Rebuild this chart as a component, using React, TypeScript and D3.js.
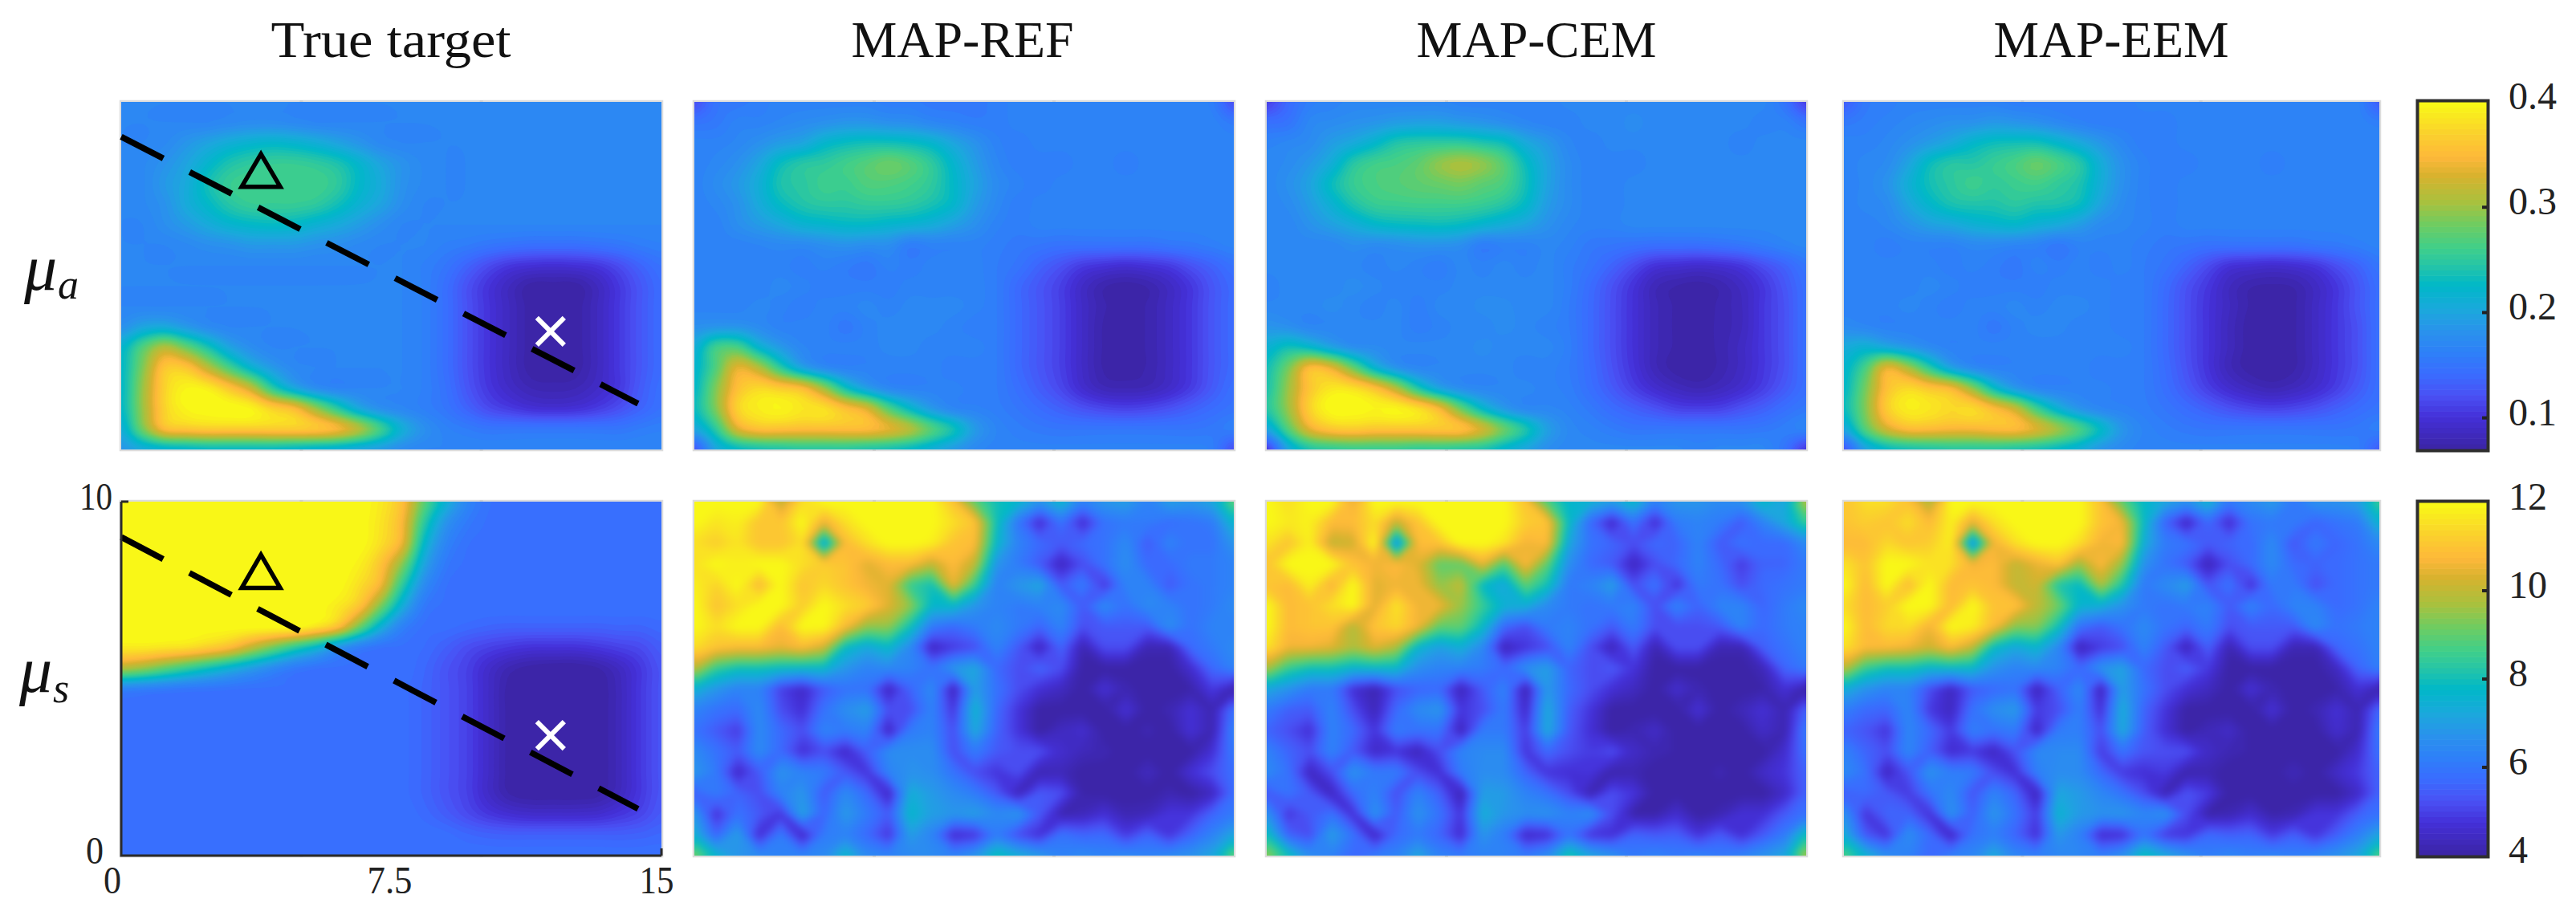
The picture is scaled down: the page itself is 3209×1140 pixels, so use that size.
import React, { useMemo } from "react";
import * as d3 from "d3";

// ---------- data (26 columns x 18 rows, top row first) ----------
const titles = ["True target", "MAP-REF", "MAP-CEM", "MAP-EEM"];
const aTicks = [0.1, 0.2, 0.3, 0.4];
const sTicks = [4, 6, 8, 10, 12];
const aRange = [0.07, 0.4];
const sRange = [4, 12];
const xTicks = [0, 7.5, 15];
const yTicks = [0, 10];
const lineX = [0, 14.35];
const lineY = [9, 1.32];
const triangleAt = [3.88, 8];
const crossAt = [11.92, 3.4];

const trueMuA = [
[.168,.168,.168,.168,.168,.168,.168,.168,.168,.168,.168,.168,.168,.168,.168,.168,.168,.168,.168,.168,.168,.168,.168,.168,.168,.168],
[.168,.168,.168,.168,.168,.172,.175,.175,.172,.168,.168,.168,.168,.168,.168,.168,.168,.168,.168,.168,.168,.168,.168,.168,.168,.168],
[.168,.168,.172,.185,.198,.21,.218,.222,.218,.21,.198,.185,.172,.168,.168,.168,.168,.168,.168,.168,.168,.168,.168,.168,.168,.168],
[.168,.172,.182,.198,.22,.24,.25,.255,.255,.25,.24,.22,.198,.182,.172,.168,.168,.168,.168,.168,.168,.168,.168,.168,.168,.168],
[.168,.172,.188,.205,.235,.255,.26,.26,.26,.26,.25,.225,.205,.182,.172,.168,.168,.168,.168,.168,.168,.168,.168,.168,.168,.168],
[.168,.172,.182,.205,.225,.245,.255,.255,.255,.25,.235,.215,.198,.178,.168,.168,.168,.168,.168,.168,.168,.168,.168,.168,.168,.168],
[.168,.168,.178,.19,.205,.218,.225,.228,.225,.215,.205,.192,.178,.168,.168,.168,.168,.168,.168,.168,.168,.168,.168,.168,.168,.168],
[.168,.168,.168,.172,.178,.182,.188,.188,.188,.182,.178,.172,.168,.168,.168,.162,.158,.152,.148,.145,.145,.145,.148,.152,.158,.162],
[.168,.168,.168,.168,.168,.168,.168,.168,.168,.168,.168,.168,.168,.168,.162,.152,.135,.118,.105,.1,.098,.1,.105,.118,.135,.148],
[.168,.168,.168,.168,.168,.168,.168,.168,.168,.168,.168,.168,.168,.168,.162,.145,.122,.102,.085,.072,.072,.072,.085,.105,.125,.142],
[.168,.168,.168,.168,.168,.168,.168,.168,.168,.168,.168,.168,.168,.168,.162,.145,.122,.102,.085,.072,.072,.072,.085,.105,.125,.142],
[.18,.2,.205,.19,.175,.168,.168,.168,.168,.168,.168,.168,.168,.168,.162,.145,.122,.102,.085,.072,.072,.072,.085,.105,.125,.142],
[.22,.27,.31,.28,.24,.2,.178,.168,.168,.168,.168,.168,.168,.168,.162,.145,.122,.102,.085,.072,.072,.072,.085,.105,.125,.142],
[.225,.29,.36,.36,.315,.265,.22,.19,.172,.168,.168,.168,.168,.168,.162,.145,.122,.102,.085,.072,.072,.072,.085,.105,.125,.142],
[.225,.3,.37,.395,.39,.36,.32,.25,.205,.178,.168,.168,.168,.168,.162,.148,.125,.105,.09,.08,.078,.08,.09,.105,.128,.145],
[.225,.3,.37,.395,.4,.4,.395,.37,.35,.3,.25,.205,.18,.17,.162,.152,.135,.118,.108,.1,.098,.1,.108,.12,.135,.148],
[.21,.285,.35,.36,.365,.365,.365,.365,.365,.36,.345,.31,.26,.21,.18,.165,.158,.152,.152,.152,.152,.152,.152,.152,.158,.162],
[.185,.205,.215,.22,.225,.225,.225,.225,.22,.215,.21,.2,.19,.175,.168,.168,.168,.168,.168,.168,.168,.168,.168,.168,.168,.168],
];

const refMuA = [
[.12,.15,.155,.16,.165,.165,.165,.165,.165,.16,.16,.155,.155,.155,.16,.165,.165,.165,.165,.165,.165,.165,.165,.165,.16,.12],
[.15,.155,.165,.165,.17,.175,.18,.185,.185,.18,.178,.17,.165,.16,.16,.165,.165,.165,.165,.165,.165,.165,.165,.165,.165,.155],
[.165,.165,.17,.18,.192,.2,.22,.23,.235,.235,.23,.22,.2,.182,.165,.16,.165,.165,.165,.165,.165,.165,.165,.165,.165,.165],
[.165,.17,.18,.2,.23,.245,.25,.26,.27,.28,.27,.25,.22,.192,.17,.16,.16,.16,.165,.165,.16,.165,.165,.165,.165,.165],
[.165,.175,.188,.21,.24,.248,.258,.258,.268,.268,.262,.25,.225,.198,.175,.165,.16,.165,.165,.165,.165,.165,.165,.165,.165,.165],
[.165,.17,.182,.205,.228,.242,.248,.248,.252,.252,.248,.238,.222,.192,.172,.16,.165,.165,.165,.165,.165,.165,.165,.165,.165,.165],
[.165,.165,.178,.19,.202,.215,.22,.225,.225,.22,.215,.208,.195,.18,.165,.16,.165,.165,.165,.165,.165,.165,.165,.165,.165,.165],
[.165,.165,.165,.168,.172,.172,.178,.182,.178,.178,.16,.165,.165,.165,.16,.155,.152,.148,.148,.148,.148,.148,.152,.155,.16,.165],
[.165,.165,.165,.165,.165,.16,.165,.16,.155,.165,.16,.165,.165,.165,.158,.15,.135,.122,.108,.102,.098,.102,.108,.122,.135,.148],
[.165,.165,.165,.165,.17,.165,.16,.16,.16,.16,.165,.165,.165,.165,.158,.14,.125,.11,.09,.076,.072,.076,.088,.105,.125,.14],
[.165,.165,.165,.17,.165,.16,.165,.165,.17,.165,.17,.17,.17,.165,.158,.14,.125,.11,.09,.076,.072,.076,.088,.105,.125,.14],
[.18,.185,.185,.175,.165,.165,.165,.155,.165,.17,.17,.17,.165,.16,.158,.14,.125,.11,.09,.074,.072,.076,.088,.105,.125,.14],
[.21,.26,.265,.22,.19,.17,.165,.165,.165,.17,.17,.165,.165,.165,.158,.14,.125,.11,.09,.074,.072,.076,.088,.105,.125,.14],
[.22,.27,.335,.31,.25,.2,.175,.165,.165,.165,.165,.165,.16,.16,.158,.14,.125,.11,.09,.074,.072,.076,.088,.105,.125,.14],
[.225,.29,.355,.375,.365,.35,.3,.235,.195,.172,.165,.165,.165,.16,.158,.145,.13,.115,.095,.082,.08,.082,.092,.108,.128,.145],
[.23,.29,.37,.39,.395,.385,.38,.355,.33,.27,.225,.19,.17,.165,.16,.152,.142,.132,.122,.115,.112,.115,.122,.132,.142,.15],
[.2,.25,.33,.355,.355,.352,.352,.352,.35,.335,.31,.27,.235,.19,.168,.16,.155,.152,.152,.152,.152,.152,.152,.152,.155,.16],
[.125,.2,.225,.235,.24,.245,.245,.245,.24,.235,.225,.21,.19,.172,.165,.165,.165,.165,.165,.165,.165,.165,.165,.165,.16,.12],
];

const cemMuA = [
[.11,.14,.16,.165,.17,.17,.17,.17,.17,.165,.165,.165,.165,.165,.17,.17,.17,.17,.17,.17,.17,.17,.17,.17,.15,.11],
[.145,.15,.17,.175,.18,.185,.192,.195,.195,.19,.185,.178,.17,.165,.165,.17,.17,.175,.17,.17,.17,.17,.17,.165,.165,.15],
[.165,.17,.175,.192,.205,.222,.242,.248,.25,.25,.242,.232,.205,.188,.17,.165,.17,.17,.17,.17,.17,.17,.165,.17,.17,.17],
[.17,.175,.188,.21,.245,.26,.265,.275,.295,.305,.295,.27,.23,.198,.175,.165,.165,.165,.17,.17,.17,.17,.17,.17,.17,.17],
[.17,.18,.198,.23,.255,.265,.27,.275,.28,.285,.275,.265,.235,.198,.175,.165,.165,.17,.17,.17,.17,.17,.17,.17,.17,.17],
[.17,.175,.192,.215,.24,.255,.258,.26,.26,.26,.255,.245,.225,.192,.175,.165,.165,.17,.17,.17,.17,.17,.17,.17,.17,.17],
[.17,.17,.182,.195,.208,.222,.228,.23,.232,.228,.218,.208,.198,.182,.17,.165,.165,.17,.17,.17,.17,.17,.17,.17,.17,.17],
[.17,.17,.17,.17,.178,.175,.178,.182,.182,.178,.16,.165,.165,.17,.165,.155,.152,.148,.145,.145,.145,.148,.152,.158,.165,.17],
[.17,.17,.17,.17,.17,.165,.17,.165,.16,.17,.165,.17,.165,.17,.16,.15,.135,.118,.102,.098,.095,.098,.105,.12,.135,.152],
[.165,.17,.17,.17,.175,.17,.165,.165,.165,.17,.17,.17,.17,.17,.16,.142,.122,.102,.082,.075,.072,.077,.088,.105,.125,.145],
[.17,.17,.17,.175,.17,.165,.17,.16,.17,.17,.175,.175,.17,.17,.158,.14,.12,.1,.082,.074,.07,.077,.085,.105,.122,.145],
[.185,.18,.17,.17,.17,.17,.17,.16,.165,.17,.17,.175,.17,.165,.158,.14,.12,.1,.082,.074,.072,.077,.085,.105,.122,.145],
[.215,.235,.225,.2,.18,.175,.17,.17,.17,.17,.175,.17,.17,.17,.16,.14,.12,.1,.082,.074,.072,.077,.088,.105,.122,.145],
[.235,.285,.35,.335,.28,.22,.185,.17,.17,.17,.17,.17,.165,.165,.158,.142,.122,.102,.082,.072,.07,.077,.088,.105,.122,.145],
[.24,.3,.36,.385,.38,.355,.31,.245,.2,.178,.17,.17,.17,.165,.16,.145,.128,.11,.095,.085,.08,.085,.095,.11,.128,.145],
[.245,.3,.37,.4,.4,.395,.395,.38,.345,.28,.225,.19,.172,.17,.165,.155,.142,.132,.122,.112,.11,.112,.122,.132,.145,.155],
[.2,.27,.335,.36,.365,.36,.36,.36,.36,.355,.325,.28,.24,.195,.172,.165,.158,.152,.152,.152,.152,.152,.152,.155,.16,.165],
[.105,.2,.24,.25,.255,.255,.255,.25,.25,.245,.24,.22,.2,.178,.17,.17,.17,.17,.17,.17,.165,.17,.17,.17,.15,.105],
];

const eemMuA = [
[.13,.155,.16,.165,.165,.165,.165,.165,.16,.16,.16,.16,.16,.16,.165,.165,.165,.165,.165,.165,.165,.165,.165,.165,.165,.13],
[.155,.16,.165,.17,.175,.18,.182,.188,.185,.18,.172,.165,.16,.16,.16,.16,.165,.165,.165,.165,.165,.165,.165,.165,.165,.16],
[.165,.165,.17,.18,.192,.205,.222,.232,.235,.235,.222,.205,.187,.17,.16,.16,.165,.165,.165,.165,.165,.165,.165,.165,.165,.165],
[.165,.17,.175,.198,.23,.245,.245,.255,.265,.278,.265,.245,.208,.18,.165,.16,.16,.165,.165,.165,.16,.165,.165,.165,.165,.165],
[.165,.17,.182,.21,.235,.248,.258,.252,.258,.262,.252,.24,.208,.18,.165,.16,.165,.165,.165,.165,.165,.165,.165,.165,.165,.165],
[.165,.17,.175,.2,.222,.238,.242,.242,.248,.242,.24,.23,.198,.175,.165,.16,.165,.165,.165,.165,.165,.165,.165,.165,.165,.165],
[.165,.165,.17,.182,.195,.202,.212,.218,.222,.212,.205,.192,.175,.17,.165,.16,.165,.165,.165,.165,.165,.165,.165,.165,.165,.165],
[.165,.165,.16,.165,.165,.165,.172,.172,.168,.165,.155,.165,.165,.165,.16,.155,.152,.148,.148,.148,.148,.148,.152,.155,.16,.165],
[.165,.165,.165,.165,.165,.16,.165,.16,.155,.165,.16,.165,.16,.165,.158,.15,.135,.118,.102,.098,.095,.098,.105,.12,.135,.152],
[.165,.165,.165,.165,.17,.165,.16,.16,.16,.16,.165,.165,.165,.16,.158,.142,.122,.105,.086,.076,.074,.076,.088,.105,.125,.145],
[.165,.165,.165,.17,.165,.16,.165,.165,.17,.165,.17,.17,.165,.16,.158,.14,.12,.102,.086,.074,.072,.074,.088,.105,.125,.145],
[.175,.17,.165,.165,.165,.165,.165,.155,.165,.17,.17,.165,.165,.16,.158,.14,.12,.102,.084,.072,.072,.074,.088,.105,.122,.145],
[.205,.215,.205,.19,.175,.165,.165,.165,.165,.165,.165,.165,.165,.165,.158,.14,.12,.102,.084,.072,.072,.074,.088,.105,.122,.145],
[.22,.265,.335,.305,.25,.2,.175,.165,.165,.165,.165,.165,.16,.16,.158,.142,.122,.102,.082,.072,.07,.074,.088,.105,.122,.145],
[.225,.285,.355,.375,.36,.345,.295,.23,.19,.17,.165,.165,.165,.16,.158,.145,.128,.11,.095,.085,.08,.085,.095,.11,.128,.145],
[.23,.29,.365,.39,.385,.375,.375,.35,.32,.26,.215,.185,.17,.165,.16,.152,.142,.132,.122,.115,.112,.115,.122,.132,.142,.15],
[.2,.27,.325,.35,.35,.345,.345,.35,.35,.33,.3,.265,.225,.185,.167,.16,.155,.152,.152,.152,.152,.152,.152,.152,.155,.16],
[.125,.195,.225,.235,.24,.245,.245,.245,.24,.235,.225,.21,.185,.172,.165,.165,.165,.165,.165,.165,.165,.165,.165,.165,.16,.13],
];

const trueMuS = [
[12,12,12,12,12,12,12,12,12,12,12,12,11.7,10.9,9,7.5,6.4,5.9,5.85,5.85,5.85,5.85,5.85,5.85,5.85,5.85],
[12,12,12,12,12,12,12,12,12,12,12,12,11.6,10.7,8.4,6.8,6.1,5.85,5.85,5.85,5.85,5.85,5.85,5.85,5.85,5.85],
[12,12,12,12,12,12,12,12,12,12,12,12,11.5,10.5,7.8,6.4,5.9,5.85,5.85,5.85,5.85,5.85,5.85,5.85,5.85,5.85],
[12,12,12,12,12,12,12,12,12,12,12,11.8,11,9.4,7.2,6.1,5.85,5.85,5.85,5.85,5.85,5.85,5.85,5.85,5.85,5.85],
[12,12,12,12,12,12,12,12,12,12,12,11.5,10.6,8.4,6.6,5.9,5.85,5.85,5.85,5.85,5.85,5.85,5.85,5.85,5.85,5.85],
[12,12,12,12,12,12,12,12,12,12,11.7,11,9.3,7.4,6.1,5.85,5.85,5.85,5.85,5.85,5.85,5.85,5.85,5.85,5.85,5.85],
[12,12,12,12,12,12,12,12,12,11.6,10.9,9.2,7.5,6.3,5.85,5.8,5.7,5.6,5.55,5.55,5.55,5.55,5.55,5.6,5.6,5.7],
[11.7,11.7,11.6,11.5,11.2,10.8,10,9.2,8.4,7.7,6.8,6.2,5.9,5.85,5.75,5.5,5.2,5,4.85,4.75,4.75,4.75,4.85,5,5.15,5.45],
[9.8,9.5,9,8.5,8,7.5,7,6.5,6.1,5.9,5.85,5.85,5.85,5.85,5.65,5.3,5,4.55,4.2,4.05,4,4,4.1,4.4,4.85,5.3],
[6.3,6.2,6.1,6,5.95,5.9,5.85,5.85,5.85,5.85,5.85,5.85,5.85,5.8,5.6,5.3,5,4.5,4.05,4,4,4,4,4.3,4.85,5.3],
[5.85,5.85,5.85,5.85,5.85,5.85,5.85,5.85,5.85,5.85,5.85,5.85,5.85,5.8,5.6,5.3,5,4.5,4.05,4,4,4,4,4.3,4.85,5.3],
[5.85,5.85,5.85,5.85,5.85,5.85,5.85,5.85,5.85,5.85,5.85,5.85,5.85,5.8,5.6,5.3,5,4.5,4.05,4,4,4,4,4.3,4.85,5.3],
[5.85,5.85,5.85,5.85,5.85,5.85,5.85,5.85,5.85,5.85,5.85,5.85,5.85,5.8,5.6,5.3,5,4.5,4.05,4,4,4,4,4.3,4.85,5.3],
[5.85,5.85,5.85,5.85,5.85,5.85,5.85,5.85,5.85,5.85,5.85,5.85,5.85,5.8,5.6,5.3,5,4.5,4.05,4,4,4,4,4.3,4.85,5.3],
[5.85,5.85,5.85,5.85,5.85,5.85,5.85,5.85,5.85,5.85,5.85,5.85,5.85,5.8,5.6,5.3,5,4.5,4.1,4,4,4,4.05,4.35,4.85,5.3],
[5.85,5.85,5.85,5.85,5.85,5.85,5.85,5.85,5.85,5.85,5.85,5.85,5.85,5.85,5.7,5.45,5.15,4.85,4.65,4.55,4.55,4.55,4.6,4.8,5.05,5.4],
[5.85,5.85,5.85,5.85,5.85,5.85,5.85,5.85,5.85,5.85,5.85,5.85,5.85,5.85,5.85,5.8,5.65,5.55,5.5,5.5,5.5,5.5,5.5,5.5,5.55,5.65],
[5.85,5.85,5.85,5.85,5.85,5.85,5.85,5.85,5.85,5.85,5.85,5.85,5.85,5.85,5.85,5.85,5.85,5.85,5.85,5.85,5.85,5.85,5.85,5.85,5.85,5.85],
];

const refMuS = [
[12,12,12,12,10,11.5,12,12,12,12,12,12,11,9,8,7.7,6.8,7.7,6.3,6.8,7,6.3,7,6.8,7.2,9],
[12,11.6,11.8,11,11,12,10.5,11.5,12,12,12,12,11.5,11,8,6,4.6,5.9,4.6,5.9,6.1,6.1,5.8,5.9,6.1,7.7],
[11.5,11.2,11.6,11,11,11.5,7,10.8,11.5,12,12,11.8,11,10.8,7.7,6.3,5.7,5.4,5.7,5.9,6.5,5.4,6.3,5.9,5.9,6.8],
[11.6,12,11.8,12,12,11.5,11.2,11,10.4,10.8,10.8,10,10.8,10,6.8,6.1,5.4,4.4,5.2,5.9,6.6,5.7,5.7,6.1,6.1,6.3],
[11.8,11.3,12,10.8,12,11,11.4,11,10.6,10.4,8.5,8,10.5,8.5,6.3,6.8,7.2,5.4,6.1,4.8,6.3,6.3,5.4,5.9,6.1,6.3],
[12,11,11.5,12,12,11.2,12,11.5,11.2,10.4,9.5,7.7,7.7,6.8,6.3,6.1,6.3,6.5,5.4,6.5,5.9,6.5,6.3,5.9,6.1,6.5],
[12,11.5,12,12,10.8,12,12,10.8,9.5,9.5,8,6.1,5.7,6.1,6.5,6.1,5.6,6.3,5.2,5.4,5.4,5.4,6.6,5.9,6.3,6.3],
[11.5,11,10.8,10.8,10.5,10.8,10.2,7.8,7.2,7.7,6.5,4.4,4.9,5.2,6.3,5.4,4.4,5.6,4.2,5.2,5.2,4.2,4.2,5.7,6.1,6.5],
[10,8.5,8,8,7.8,7.7,7.7,6.8,6.3,6.5,6.3,5.9,6.8,7.2,5.7,5.2,5.6,5.2,4,4,4,4,4,4.6,5.7,6.3],
[7.5,6.8,6.3,6.3,5,4.5,5.4,5.9,5.9,4.4,5.6,6.5,4.3,7,5.9,5.2,4.7,4.4,4,4.7,4.2,4,4,4.1,4.9,4.2],
[6.3,5.9,5.7,6.5,5.2,4.7,5.9,6.6,7,5.2,5.2,6.3,4.8,7.6,5.7,4.8,4,4,4,4,4.7,4,4.2,4.7,4.2,5.9],
[5.9,5.4,4.9,6.5,5.7,5.2,6.3,6.1,6.3,4.4,6.1,6.3,5.2,7.3,5.6,4.8,4,4.4,4.6,4,4,4.2,4,4.7,4.2,6.3],
[6.5,5.9,5.4,6.5,5.7,4.7,5.2,4.5,5.5,6.5,6.6,6.6,5.2,6.1,5.4,5.2,5.2,4.6,4.3,4.2,4,4,4,4,4.7,6.1],
[6.8,6.1,4.5,5.4,6.7,6.3,6.1,5.4,4.8,6.3,6.7,6.6,5.9,5.2,4.8,5.2,4.2,4.3,4,4,4,4.4,4,4.7,5.2,5.8],
[5.6,6.1,5.6,5.2,6.3,6.8,5.4,6.5,5.7,4.4,7.4,6.9,6.5,6.1,5.4,4.3,5.4,5.2,4.1,4,4,4,4.2,4,4.4,5.8],
[6.8,4.7,5.9,5.4,4.8,7.1,5.6,6.9,6.1,5.4,7.7,7,6.8,7,6.5,6.8,5.4,4.2,4.3,4.7,4.2,4.3,4.8,4.8,5.6,6.1],
[7.5,5.6,7,4.6,6.1,4.4,6.1,6.3,5.7,4.8,7,6.3,4.6,4.8,6.1,5.2,4.7,5.9,5.6,5.7,4.9,5.6,4.8,5.6,6.3,7.2],
[9.2,7.7,6.8,6.5,6.3,6.3,6.5,7.7,6.5,6.3,6.5,6.5,6.3,6.8,8,7.4,6.9,6.3,6.5,6.3,6.5,6.3,6.5,6.7,7.2,9],
];

const cemMuS = [
[12,11.5,12,12,10.5,12,12,12,12,12,12,12,11,8.8,7.7,7.5,7,7.8,6.3,6.8,6.8,6.5,6.7,7.8,7.2,10],
[12,11.7,11.8,10.8,10.8,11.5,10,11,12,12,12,12,11.2,11,7.8,5.7,4.5,5.9,4.6,6.1,6.3,6.1,5.4,6.3,7.2,8.5],
[11.6,11,11.8,10,10.2,12,6.5,10.8,11,12,12,11.6,10.6,10.8,7.2,5.9,5.6,5.2,5.7,5.6,6.3,5.4,5.9,5.7,5.7,6.5],
[11,12,12,12,11,10.6,10.8,10.4,9,9,10.5,8.8,10.8,9,6.6,5.7,5.4,4.4,5.2,5.7,6.3,5.7,4.9,5.6,5.6,6.1],
[11,10.8,11.8,10.6,12,10.4,10.6,10.6,9.5,10,7.8,7.2,9,8,6.1,6.3,7,5.2,5.9,4.7,6.1,5.9,5.2,5.7,5.9,6.1],
[12,10.8,11,11.5,12,10.4,11.6,10.6,10.6,9.6,8.5,7.5,7.4,6.5,6.1,5.9,6.1,6.3,5.2,6.3,5.6,6.3,6.3,5.6,6.1,6.5],
[12,10.8,11,11,9.8,11,11.4,10.6,9,9,7.8,5.7,5.2,6.1,6.3,5.9,5.4,6.1,5.2,5.2,5.2,5.4,6.3,5.7,6.1,6.3],
[11.6,10.6,10.6,10.4,9.8,10.4,9.8,7.6,7,7.4,6.5,4.3,4.8,5.2,6.3,5.2,4.3,5.4,4.2,5.2,5.2,4.2,4.2,5.5,5.9,6.3],
[9.8,8.5,8,8,7.6,7.7,7.7,6.6,6.3,6.3,6.1,5.7,6.6,7,5.6,5.2,5.4,4.8,4,4,4,4,4,4.3,5.6,6.1],
[7.2,6.7,6.1,6.1,4.7,4.2,5.2,5.6,5.7,4.3,5.4,6.3,4.2,6.9,5.7,5.2,4.7,4.4,4,4.6,4.2,4,4,4.1,4.7,4.1],
[6.1,5.5,5.4,6.3,5.2,4.3,5.7,6.5,6.8,4.8,5.2,6.1,4.5,7.3,5.5,4.8,4,4,4,4,4.7,4,4.3,4.7,4.2,5.6],
[5.6,5.2,4.7,6.3,5.7,4.8,6.1,5.9,5.9,4.3,6.1,6.1,4.9,7.3,5.4,4.7,4,4.2,4.5,4,4,4,4,4.5,4.2,6.1],
[6.3,5.6,5.2,6.3,5.4,4.5,4.8,4.3,5.2,6.3,6.5,6.5,4.8,5.7,5.2,4.9,5.2,4.5,4.2,4.1,4,4,4,4,4.6,5.9],
[6.5,5.9,4.4,5.2,6.7,6.1,6.1,5.2,4.7,6.1,6.6,6.5,5.6,4.8,4.7,4.8,4.1,4.2,4,4,4,4.2,4,4.5,4.8,5.6],
[5.4,5.9,5.4,4.4,5.7,6.3,5.2,6.3,5.5,4.2,7,6.9,6.3,5.9,5.2,4.2,5.2,4.8,4,4,4,4,4,4,4.5,5.6],
[6.7,4.8,5.4,5.9,4.7,6.7,5.4,6.7,5.9,4.8,7.4,6.8,6.6,6.7,6.3,6.6,5.2,4.1,4.1,4.6,4,4.2,4.7,4.7,5.4,5.9],
[8,5.6,5.2,7,5.9,4.4,5.7,6.1,5.6,4.6,6.8,6.1,4.5,4.7,5.9,4.8,4.7,5.6,5.4,5.5,4.8,5.4,4.7,5.4,6.1,8],
[9.5,8,6.6,6.3,5.7,6.1,6.3,7.2,6.3,6.1,6.3,6.3,6.1,6.6,8.2,7.2,6.7,6.1,6.3,6.1,6.3,6.1,6.3,6.7,7.2,9.8],
];

const eemMuS = [
[11,11.5,11.5,11,9.8,12,12,12,12,12,12,12,11,9,7.8,7.2,6.7,7.6,6.1,6.5,6.9,6.1,6.7,6.7,7,8.6],
[11,11.2,11,11.5,10.8,11.8,10.4,11.5,12,12,12,12,11,10.6,7.8,5.6,4.4,5.7,4.6,5.9,6.1,6.1,5.6,5.9,6.1,7.6],
[10.8,10.8,11.4,11,11.2,11.8,6.5,10.6,11.5,12,12,11.5,10.6,10.8,7.4,6.1,5.9,5.4,5.6,5.7,6.5,5.3,6.1,5.6,5.9,6.5],
[11.6,11,12,12,11.6,11.5,10.6,10.8,10,10.5,11,9.6,10.8,9.5,6.7,5.9,5.4,4.3,5.2,5.7,6.5,5.7,5.6,5.7,5.9,6.1],
[12,10.8,12,10.8,12,10.8,11,10.8,10,10.2,8.2,7.8,9.8,8.2,6.1,6.5,7,5.3,5.9,4.7,6.1,6.1,5.2,5.7,5.9,6.1],
[11.5,10.8,11.2,12,12,10.8,12,11,11,10,9.2,7.6,7.4,6.7,6.1,5.9,6.1,6.3,5.4,6.3,5.7,6.3,6.3,5.7,5.9,6.3],
[12,10.8,11.4,11.5,10.6,12,11.8,10.8,9.4,9.4,8,5.9,5.4,5.9,6.5,5.9,5.6,6.1,5.2,5.4,5.4,5.4,6.5,5.9,6.1,6.3],
[11.6,10.8,10.8,10.6,10.2,10.8,10,7.8,7.2,7.6,6.5,4.3,4.9,5.2,6.3,5.4,4.3,5.5,4.2,5.2,5.2,4.2,4.2,5.6,5.9,6.3],
[10,8.5,8,8,7.6,7.7,7.7,6.7,6.3,6.5,6.3,5.7,6.7,7.1,5.7,5.2,5.5,4.9,4,4,4,4,4,4.4,5.6,6.2],
[7.4,6.7,6.3,6.3,5.2,4.4,5.4,5.7,5.9,4.3,5.5,6.5,4.3,7,5.9,5.2,4.7,4.4,4,4.7,4.2,4,4,4.1,4.7,4.2],
[6.2,5.7,5.6,6.4,4.9,4.4,5.9,6.6,6.9,4.9,5.2,6.2,4.7,7.4,5.6,4.8,4,4,4,4,4.7,4,4.2,4.7,4.2,5.7],
[5.6,5.3,4.8,6.4,5.7,4.9,6.2,5.9,6.1,4.4,6.1,6.2,5.2,7.3,5.5,4.7,4,4.3,4.5,4,4,4.1,4,4.6,4.2,6.1],
[6.3,5.6,5.2,6.4,5.5,4.6,4.9,4.4,5.3,6.4,6.5,6.5,4.9,5.9,5.3,5.2,5.2,4.5,4.2,4.1,4,4,4,4,4.6,5.9],
[6.5,5.9,4.4,5.3,6.7,6.2,6.1,5.2,4.7,6.2,6.6,6.5,5.7,4.9,4.7,4.9,4.1,4.2,4,4,4,4.3,4,4.5,4.9,5.6],
[5.5,5.7,5.4,4.9,5.9,6.5,5.3,6.3,5.6,4.3,7.2,6.9,6.4,5.9,5.2,4.2,5.3,4.9,4,4,4,4,4,4,4.5,5.6],
[6.7,4.8,5.6,5.6,4.7,6.7,5.5,6.8,5.9,4.9,7.6,6.9,6.7,6.8,6.4,6.7,5.2,4.1,4.2,4.6,4.1,4.2,4.8,4.8,5.5,5.9],
[7.4,5.4,4.8,6.6,5.7,4.4,5.9,6.2,5.6,4.7,6.9,6.2,4.6,4.7,5.9,4.9,4.8,5.7,5.5,5.6,4.9,5.5,4.8,5.5,6.2,7.2],
[8.8,7.6,6.6,6.3,5.7,6.2,6.4,7.3,6.4,6.2,6.4,6.4,6.2,6.7,8,7.3,6.7,6.2,6.4,6.2,6.4,6.2,6.4,6.7,7.2,8.8],
];

const topGrids = [trueMuA, refMuA, cemMuA, eemMuA];
const bottomGrids = [trueMuS, refMuS, cemMuS, eemMuS];
const smoothBottom = [true, false, false, false];

// colormap stops, measured from the colour bar
const cmapPos = [0, .093, .154, .216, .278, .34, .402, .472, .526, .58, .649, .711, .788, .842, .911, 1];
const cmapCol = ["#3b24a4", "#4430d8", "#4a50f4", "#3a6cff", "#2e80f8", "#2a92ec", "#1ba8dc", "#00b8c8", "#24c4a8", "#40cf8a", "#70cc60", "#a8c13e", "#d8b22e", "#feb83a", "#fad22c", "#f9fb15"];
const cmap = d3.scaleLinear<string>().domain(cmapPos).range(cmapCol).interpolate(d3.interpolateRgb);

// ---------- layout ----------
const W = 3209, H = 1140;
const panelX = [[151, 824], [865, 1537], [1578, 2250], [2297, 2964]];
const rowY = [[127, 560], [625, 1066]];
const titleX = [487, 1199, 1914, 2630];
const titleLen = [299, 277, 299, 293];
const BANDS = 64;
const serif = "'Liberation Serif', serif";

function resample(rows: number[][], UP: number, cubic: boolean) {
  const ny = rows.length, nx = rows[0].length;
  const w = (nx - 1) * UP + 1, h = (ny - 1) * UP + 1;
  const at = (r: number, c: number) => {
    const rr = rows[Math.max(0, Math.min(ny - 1, r))];
    return rr[Math.max(0, Math.min(nx - 1, c))];
  };
  const cr = (a: number, b: number, c: number, d: number, t: number) =>
    cubic
      ? 0.5 * (2 * b + (c - a) * t + (2 * a - 5 * b + 4 * c - d) * t * t + (3 * b - a - 3 * c + d) * t * t * t)
      : b + (c - b) * t;
  const out = new Float64Array(w * h);
  for (let j = 0; j < h; j++) {
    const r = Math.floor(j / UP), tr = j / UP - r;
    for (let i = 0; i < w; i++) {
      const c = Math.floor(i / UP), tc = i / UP - c;
      const col = [-1, 0, 1, 2].map(dr =>
        cr(at(r + dr, c - 1), at(r + dr, c), at(r + dr, c + 1), at(r + dr, c + 2), tc));
      out[j * w + i] = cr(col[0], col[1], col[2], col[3], tr);
    }
  }
  return { w, h, out };
}

function Heat({ rows, x, y, range, id, smooth }: any) {
  const bands = useMemo(() => {
    const { w, h, out } = smooth ? resample(rows, 4, true) : resample(rows, 1, false);
    const sx = d3.scaleLinear().domain([0.5, w - 0.5]).range(x);
    const sy = d3.scaleLinear().domain([0.5, h - 0.5]).range(y);
    const proj = d3.geoTransform({
      point(px: number, py: number) { (this as any).stream.point(sx(px), sy(py)); },
    });
    const path = d3.geoPath(proj);
    const tv = d3.scaleLinear().domain([0, BANDS]).range(range);
    const thr = d3.range(1, BANDS).map(k => tv(k));
    const cs = d3.contours().size([w, h]).thresholds(thr)(Array.from(out));
    return cs.map((c, k) => ({ d: path(c as any) || "", fill: cmap((k + 1.5) / BANDS) }));
  }, [rows]);
  const pad = 30;
  return (
    <g clipPath={`url(#${id})`}>
      <clipPath id={id}>
        <rect x={x[0]} y={y[0]} width={x[1] - x[0]} height={y[1] - y[0]} />
      </clipPath>
      <g filter={smooth ? undefined : "url(#soften)"}>
        <rect x={x[0] - pad} y={y[0] - pad} width={x[1] - x[0] + 2 * pad} height={y[1] - y[0] + 2 * pad} fill={cmap(0.5 / BANDS)} />
        {bands.map((b, i) => <path key={i} d={b.d} fill={b.fill} />)}
      </g>
    </g>
  );
}

function Frame({ x, y }: any) {
  const nubs = [1 / 3, 2 / 3];
  return (
    <g stroke="#dcdcdc" fill="none">
      <rect x={x[0] - 1} y={y[0] - 1} width={x[1] - x[0] + 2} height={y[1] - y[0] + 2} strokeWidth={2.5} />
      {nubs.map(f => {
        const px = x[0] + f * (x[1] - x[0]);
        return <g key={f}>
          <line x1={px} x2={px} y1={y[0] - 2} y2={y[0] + 1} stroke="#cfcfcf" strokeWidth={4} />
          <line x1={px} x2={px} y1={y[1] - 1} y2={y[1] + 2} stroke="#cfcfcf" strokeWidth={4} />
        </g>;
      })}
    </g>
  );
}

function Overlay({ y }: any) {
  const sx = d3.scaleLinear().domain([0, 15]).range(panelX[0]);
  const sy = d3.scaleLinear().domain([0, 10]).range([y[1], y[0]]);
  const line = d3.line<number>().x(d => sx(lineX[d])).y(d => sy(lineY[d]));
  const tx = sx(triangleAt[0]);
  const ax = sx(crossAt[0]), ay = sy(crossAt[1]);
  const triTop = sy(8.5), triBase = sy(7.56);
  return (
    <g>
      <path d={line([0, 1]) || ""} fill="none" stroke="#000" strokeWidth={7.5} strokeDasharray="59 37" />
      <path d={`M${tx},${triTop}L${tx - 24},${triBase}L${tx + 24},${triBase}Z`} fill="none" stroke="#000" strokeWidth={5.5} />
      <g stroke="#fff" strokeWidth={6}>
        <line x1={ax - 17} x2={ax + 17} y1={ay - 17} y2={ay + 17} />
        <line x1={ax - 17} x2={ax + 17} y1={ay + 17} y2={ay - 17} />
      </g>
    </g>
  );
}

function Colorbar({ y, range, ticks, fmt }: any) {
  const x0 = 3013, x1 = 3098;
  const sv = d3.scaleLinear().domain(range).range([y[1], y[0]]);
  const bh = (y[1] - y[0]) / BANDS;
  return (
    <g>
      {d3.range(BANDS).map(k => (
        <rect key={k} x={x0} width={x1 - x0} y={y[1] - (k + 1) * bh - 0.3} height={bh + 0.6} fill={cmap((k + 0.5) / BANDS)} />
      ))}
      <rect x={x0 - 1.5} y={y[0] - 1.5} width={x1 - x0 + 3} height={y[1] - y[0] + 3} fill="none" stroke="#2e2e2e" strokeWidth={4} />
      {ticks.map((t: number) => (
        <g key={t}>
          {t !== range[0] && t !== range[1] && (
            <line x1={x1 - 6} x2={x1} y1={sv(t)} y2={sv(t)} stroke="#222" strokeWidth={4} />
          )}
          <text x={3125} y={sv(t) + 9} fontFamily={serif} fontSize={48} fill="#222">{fmt(t)}</text>
        </g>
      ))}
    </g>
  );
}

export default function App() {
  const px = d3.scaleLinear().domain([0, 15]).range(panelX[0]);
  const py = d3.scaleLinear().domain([0, 10]).range([rowY[1][1], rowY[1][0]]);
  return (
    <svg width={W} height={H} viewBox={`0 0 ${W} ${H}`} style={{ position: "absolute", left: 0, top: 0, display: "block", background: "#fff" }}>
      <defs>
        <filter id="soften" x="-5%" y="-5%" width="110%" height="110%" colorInterpolationFilters="sRGB">
          <feGaussianBlur stdDeviation="4" />
        </filter>
      </defs>
      {titles.map((t, i) => (
        <text key={t} x={titleX[i]} y={71} textAnchor="middle" fontFamily={serif} fontSize={64} fill="#111"
          textLength={titleLen[i]} lengthAdjust="spacingAndGlyphs">{t}</text>
      ))}

      {panelX.map((x, i) => (
        <g key={i}>
          <Frame x={x} y={rowY[0]} />
          <Heat id={`a${i}`} rows={topGrids[i]} x={x} y={rowY[0]} range={aRange} smooth={true} />
          <Frame x={x} y={rowY[1]} />
          <Heat id={`s${i}`} rows={bottomGrids[i]} x={x} y={rowY[1]} range={sRange} smooth={smoothBottom[i]} />
        </g>
      ))}

      <Overlay y={rowY[0]} />
      <Overlay y={rowY[1]} />

      {/* axes of the lower-left panel */}
      <g stroke="#2a2a2a" strokeWidth={3} fill="none">
        <path d={`M${px(0)},${py(10)}V${py(0)}H${px(15)}`} />
        <line x1={px(0)} x2={px(0) + 9} y1={py(10)} y2={py(10)} />
        <line x1={px(15)} x2={px(15)} y1={py(0)} y2={py(0) - 9} />
      </g>
      {xTicks.map(t => (
        <text key={t} x={px(t) - (t === 0 ? 11 : t === 15 ? 6 : 2)} y={1113} textAnchor="middle" fontFamily={serif} fontSize={48} fill="#222"
          textLength={t === 7.5 ? 56 : t === 15 ? 43 : 22} lengthAdjust="spacingAndGlyphs">{t}</text>
      ))}
      {yTicks.map(t => (
        <text key={t} x={t === 0 ? 129 : 140} y={py(t) + 10} textAnchor="end" fontFamily={serif} fontSize={48} fill="#222"
          textLength={t === 0 ? 22 : 41} lengthAdjust="spacingAndGlyphs">{t}</text>
      ))}

      {/* row labels */}
      <text x={30} y={361} fontFamily={serif} fontStyle="italic" fontSize={82} fill="#111">μ</text>
      <text x={72} y={372} fontFamily={serif} fontStyle="italic" fontSize={52} fill="#111">a</text>
      <text x={24} y={862} fontFamily={serif} fontStyle="italic" fontSize={82} fill="#111">μ</text>
      <text x={66} y={875} fontFamily={serif} fontStyle="italic" fontSize={52} fill="#111">s</text>

      <Colorbar y={rowY[0]} range={aRange} ticks={aTicks} fmt={(v: number) => v.toFixed(1)} />
      <Colorbar y={[626, 1066]} range={sRange} ticks={sTicks} fmt={(v: number) => String(v)} />
    </svg>
  );
}
